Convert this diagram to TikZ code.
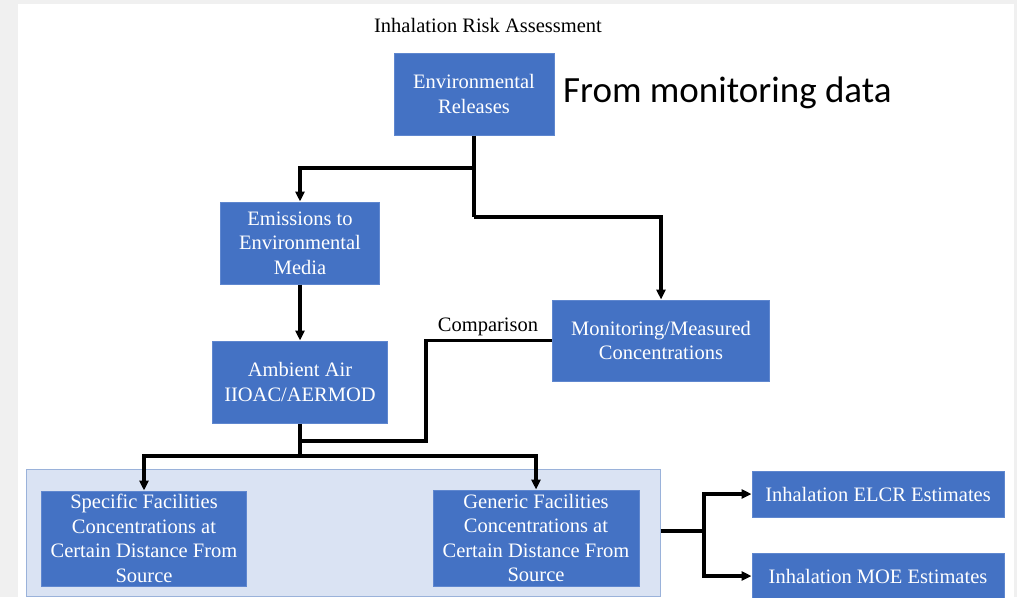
\documentclass[tikz,border=0pt]{standalone}
\usepackage{fontspec}
\setmainfont{Liberation Serif}
\newfontfamily\calfont{Carlito}
\usetikzlibrary{arrows.meta,positioning}
\definecolor{boxblue}{HTML}{4472C4}
\definecolor{boxedge}{HTML}{5F87CF}
\definecolor{contfill}{HTML}{DAE3F3}
\definecolor{contedge}{HTML}{9AB2DA}
\definecolor{pagegray}{HTML}{F0F0F0}
\tikzset{
  box/.style={draw=boxedge, line width=1pt, fill=boxblue, text=white, align=center,
    inner sep=0pt, font=\fontsize{20.5}{24.5}\selectfont},
  conn/.style={line width=3.3pt, line join=miter, black},
  arr/.style={conn, -{Triangle[length=10pt,width=9pt]}},
  lbl/.style={inner sep=0pt, font=\fontsize{20.5}{24.5}\selectfont, text=black},
}
\begin{document}
\begin{tikzpicture}[x=1pt,y=-1pt]
\useasboundingbox (0,0) rectangle (1017,597);
\fill[pagegray] (0,0) rectangle (1017,597);
\fill[white] (18,4) rectangle (1014,597);

\node[lbl] (title) at (488,25) {Inhalation Risk Assessment};

\node[box, minimum width=160pt, minimum height=82pt] (envrel) at (474,94) {Environmental\\Releases};
\node[anchor=base west, inner sep=0pt, font=\calfont\fontsize{37}{40}\selectfont] (note) at (563,102) {From monitoring data};

\node[box, minimum width=159pt, minimum height=82pt] (emis) at (300,243) {Emissions to\\Environmental\\Media};
\node[box, minimum width=175pt, minimum height=82pt] (ambient) at (300,382) {Ambient Air\\IIOAC/AERMOD};
\node[box, minimum width=217pt, minimum height=81pt] (monitor) at (661,340.5) {Monitoring/Measured\\Concentrations};

\node[draw=contedge, fill=contfill, line width=1pt, minimum width=634pt, minimum height=127pt, inner sep=0pt] (cont) at (343,532.5) {};
\node[box, minimum width=205pt, minimum height=95pt] (specific) at (144,538.5) {Specific Facilities\\Concentrations at\\Certain Distance From\\Source};
\node[box, minimum width=206pt, minimum height=96pt] (generic) at (536,538) {Generic Facilities\\Concentrations at\\Certain Distance From\\Source};

\node[box, minimum width=252pt, minimum height=46pt] (elcr) at (878,494) {Inhalation ELCR Estimates};
\node[box, minimum width=252pt, minimum height=46pt] (moe) at (878,576) {Inhalation MOE Estimates};

% connectors
\coordinate (s1) at (474,168);
\coordinate (s2) at (474,217);
\draw[conn] (envrel.south) -- (s2);
\draw[arr] (s1) -| (emis.north);
\draw[arr] (s2) -| (monitor.north);
\draw[arr] (emis.south) -- (ambient.north);

\coordinate (c1) at (426,441);
\coordinate (j1) at (300,441);
\coordinate (j2) at (300,456);
\draw[conn] (monitor.west) -| (c1) -- (j1);
\node[lbl] (cmp) at (488,327) {Comparison};
\draw[conn] (ambient.south) -- (j2);
\draw[arr] (j2) -| (specific.north);
\draw[arr] (j2) -| (generic.north);

\coordinate (j3) at (704,531);
\draw[conn] (cont.east |- j3) -- (j3);
\draw[arr] (j3) |- (elcr.west);
\draw[arr] (j3) |- (moe.west);
\end{tikzpicture}
\end{document}
